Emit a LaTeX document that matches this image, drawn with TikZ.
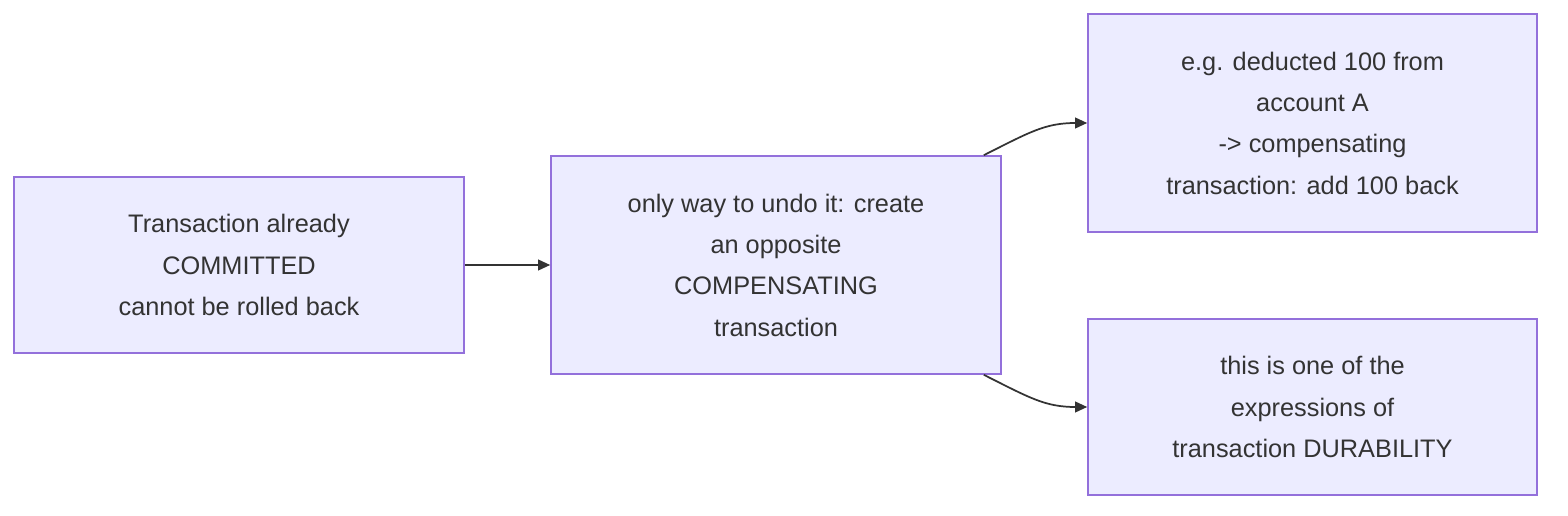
\documentclass[tikz,border=0pt]{standalone}
\usepackage{fontspec}
\setmainfont{Liberation Sans}
\usetikzlibrary{calc,arrows.meta}
\definecolor{bfill}{HTML}{ECECFF}
\definecolor{bstroke}{HTML}{9370DB}
\definecolor{tx}{HTML}{333333}
\begin{document}
\begin{tikzpicture}[x=0.75pt,y=-0.75pt,
  box/.style={draw=bstroke,fill=bfill,line width=1.2pt,text=tx,align=center,inner sep=0pt,
    font=\fontsize{19pt}{31pt}\selectfont},
  conn/.style={draw=tx,line width=1.3pt,-{Triangle[length=9pt,width=8pt]}}]
\useasboundingbox (0,0) rectangle (1568,516);
\node[box,minimum width=450*0.75pt,minimum height=176*0.75pt] (A) at (239,265) {Transaction already\\COMMITTED\\cannot be rolled back};
\node[box,minimum width=450*0.75pt,minimum height=218*0.75pt] (B) at (776,265) {only way to undo it: create\\an opposite\\COMPENSATING\\transaction};
\node[box,minimum width=449*0.75pt,minimum height=218*0.75pt] (C) at (1312.5,123) {e.g. deducted 100 from\\account A\\-> compensating\\transaction: add 100 back};
\node[box,minimum width=449*0.75pt,minimum height=176*0.75pt] (D) at (1312.5,407) {this is one of the\\expressions of\\transaction DURABILITY};
\draw[conn] (A.east) -- (B.west);
\coordinate (b1) at ($(B.north east)+(-18,0)$);
\coordinate (b2) at ($(B.south east)+(-18,0)$);
\draw[conn] (b1) .. controls (1030,132) and (1045,123) .. (C.west);
\draw[conn] (b2) .. controls (1030,398) and (1045,407) .. (D.west);
\end{tikzpicture}
\end{document}
